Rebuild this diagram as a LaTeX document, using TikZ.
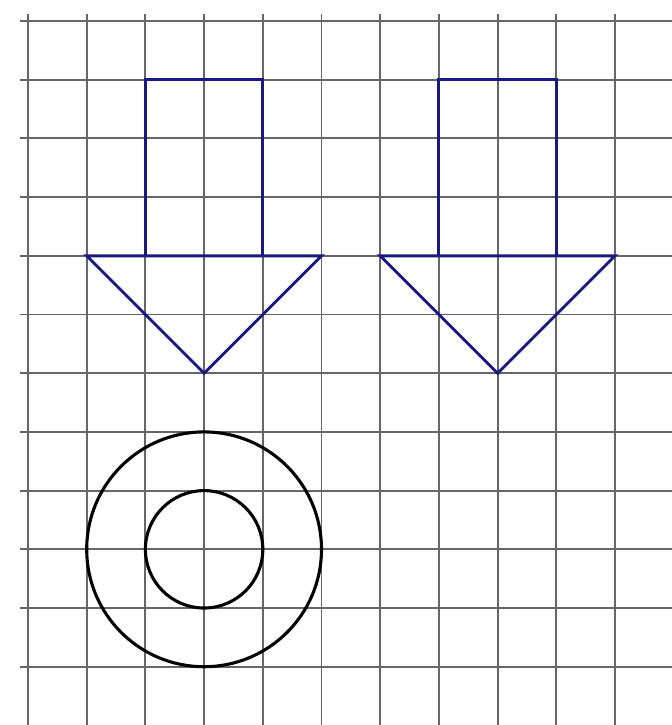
\documentclass[tikz,border=0pt]{standalone}
\definecolor{arrowblue}{RGB}{25,25,130}
\tikzset{
  gridline/.style={draw=black!60, line width=0.9pt},
  arrowshape/.style={draw=arrowblue, line width=1.4pt, line join=miter},
  ring/.style={draw=black, line width=1.5pt}
}
\begin{document}
\begin{tikzpicture}[x=1cm,y=-1cm]
\useasboundingbox[fill=white] (-0.477,-0.358) rectangle (10.971,11.993);
% grid
\foreach \i in {0,...,10} \draw[gridline] (\i,-0.12) -- (\i,11.993);
\foreach \j in {0,...,11} \draw[gridline] (-0.14,\j) -- (10.971,\j);
% left arrow
\draw[arrowshape] (2,4) -- (2,1) -- (4,1) -- (4,4);
\draw[arrowshape] (1,4) -- (5,4) -- (3,6) -- cycle;
% right arrow
\draw[arrowshape] (7,4) -- (7,1) -- (9,1) -- (9,4);
\draw[arrowshape] (6,4) -- (10,4) -- (8,6) -- cycle;
% rings
\draw[ring] (3,9) circle[radius=2];
\draw[ring] (3,9) circle[radius=1];
\end{tikzpicture}
\end{document}
